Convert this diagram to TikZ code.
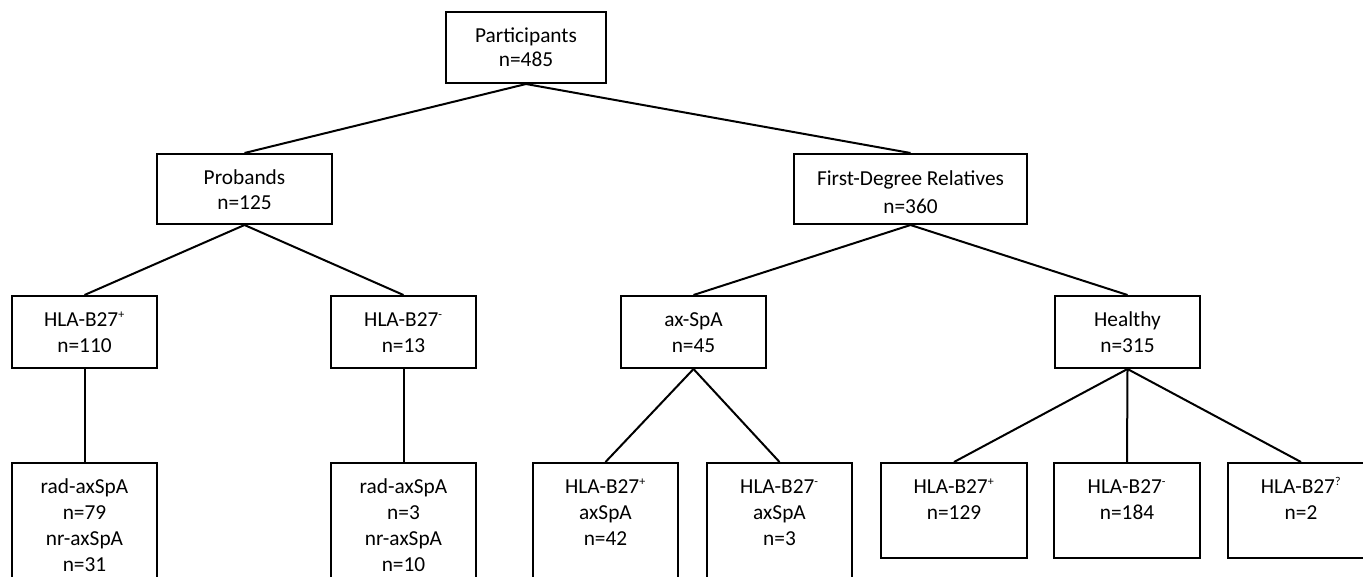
\documentclass[tikz,border=0pt]{standalone}
\usepackage{fontspec}
\setmainfont{Carlito}
\newcommand{\sps}[1]{\textsuperscript{\fontsize{9}{9}\selectfont #1}}
\newcommand{\fl}{\rule{0pt}{16pt}}
\begin{document}
\begin{tikzpicture}[x=0.75pt,y=-0.75pt,
  box/.style 2 args={draw=black, line width=1.5pt, minimum width=#1*0.75pt, minimum height=#2*0.75pt, inner sep=0pt, anchor=north},
  txt/.style={align=center, font=\fontsize{16}{19.5}\selectfont, inner sep=0pt, anchor=north},
  link/.style={line width=1.5pt}]
\clip (0,0) rectangle (1363,576);
\useasboundingbox (0,0) rectangle (1363,576);
% boxes
\node[box={160}{71}]  (p)  at (526,11) {};
\node[box={175}{70}]  (pr) at (244.5,153) {};
\node[box={233}{70}]  (f)  at (910.5,153) {};
\node[box={145}{72}]  (h1) at (84.5,295) {};
\node[box={145}{72}]  (h2) at (403.5,295) {};
\node[box={145}{72}]  (ax) at (693.5,295) {};
\node[box={145}{72}]  (he) at (1127.5,295) {};
\node[box={145}{150}] (r1) at (84.5,462) {};
\node[box={145}{150}] (r2) at (403.5,462) {};
\node[box={145}{150}] (a1) at (605.5,462) {};
\node[box={145}{150}] (a2) at (779.5,462) {};
\node[box={146}{95}]  (c1) at (954,462) {};
\node[box={146}{95}]  (c2) at (1127,462) {};
\node[box={146}{95}]  (c3) at (1301,462) {};
% texts
\node[txt, font=\fontsize{16}{18}\selectfont] (tp)  at ([yshift=-10*0.75pt]p.north)  {\fl Participants\\n=485};
\node[txt, font=\fontsize{16}{19}\selectfont] (tpr) at ([yshift=-10*0.75pt]pr.north) {\fl Probands\\n=125};
\node[txt, font=\fontsize{16}{21}\selectfont] (tf) at ([yshift=-11*0.75pt]f.north) {\fl First-Degree Relatives\\n=360};
\node[txt] (th1) at ([yshift=-10*0.75pt]h1.north) {\fl HLA-B27\sps{+}\\n=110};
\node[txt] (th2) at ([yshift=-10*0.75pt]h2.north) {\fl HLA-B27\sps{-}\\n=13};
\node[txt] (tax) at ([yshift=-10*0.75pt]ax.north) {\fl ax-SpA\\n=45};
\node[txt] (the) at ([yshift=-10*0.75pt]he.north) {\fl Healthy\\n=315};
\node[txt] (tr1) at ([yshift=-10*0.75pt]r1.north) {\fl rad-axSpA\\n=79\\nr-axSpA\\n=31};
\node[txt] (tr2) at ([yshift=-10*0.75pt]r2.north) {\fl rad-axSpA\\n=3\\nr-axSpA\\n=10};
\node[txt] (ta1) at ([yshift=-10*0.75pt]a1.north) {\fl HLA-B27\sps{+}\\axSpA\\n=42};
\node[txt] (ta2) at ([yshift=-10*0.75pt]a2.north) {\fl HLA-B27\sps{-}\\axSpA\\n=3};
\node[txt] (tc1) at ([yshift=-10*0.75pt]c1.north) {\fl HLA-B27\sps{+}\\n=129};
\node[txt] (tc2) at ([yshift=-10*0.75pt]c2.north) {\fl HLA-B27\sps{-}\\n=184};
\node[txt] (tc3) at ([yshift=-10*0.75pt]c3.north) {\fl HLA-B27\sps{?}\\n=2};
% connectors
\draw[link] (p.south) -- (pr.north);
\draw[link] (p.south) -- (f.north);
\draw[link] (pr.south) -- (h1.north);
\draw[link] (pr.south) -- (h2.north);
\draw[link] (f.south) -- (ax.north);
\draw[link] (f.south) -- (he.north);
\draw[link] (h1.south) -- (r1.north);
\draw[link] (h2.south) -- (r2.north);
\draw[link] (ax.south) -- (a1.north);
\draw[link] (ax.south) -- (a2.north);
\draw[link] (he.south) -- (c1.north);
\draw[link] (he.south) -- (c2.north);
\draw[link] (he.south) -- (c3.north);
\end{tikzpicture}
\end{document}
